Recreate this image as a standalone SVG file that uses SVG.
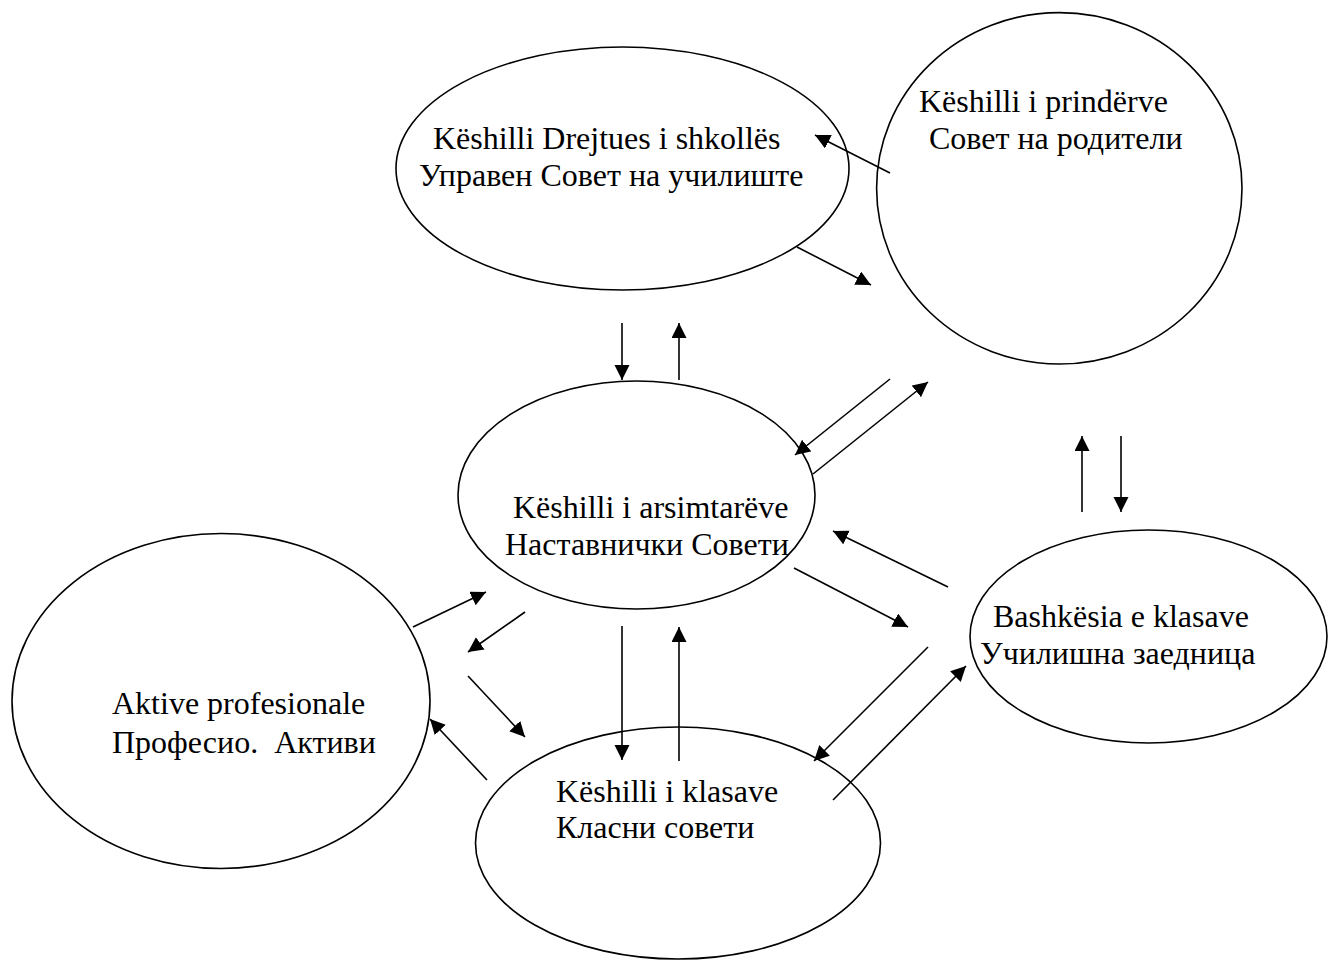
<svg xmlns="http://www.w3.org/2000/svg" width="1328" height="960" viewBox="0 0 1328 960">
<style>
.node ellipse{fill:#fff;stroke:#000;stroke-width:1.6}
.lbl{font-family:"Liberation Serif","Times New Roman",serif;font-size:32px;fill:#000;white-space:pre}
.conn line{stroke:#000;stroke-width:1.6;marker-end:url(#ah)}
</style>
<defs>
<marker id="ah" markerUnits="userSpaceOnUse" markerWidth="16" markerHeight="16" refX="15" refY="7.5" orient="auto">
<path d="M0,0 L15,7.5 L0,15 z" fill="#000"/>
</marker>
</defs>
<rect width="1328" height="960" fill="#fff"/>
<g id="n-drejtues" class="node">
<ellipse cx="622.5" cy="168.5" rx="226.5" ry="121.5"/>
<text class="lbl" x="433" y="149">Këshilli Drejtues i shkollës</text>
<text class="lbl" x="419" y="186">Управен Совет на училиште</text>
</g>
<g id="n-prinderve" class="node">
<ellipse cx="1059.3" cy="188.3" rx="182.7" ry="175.7"/>
<text class="lbl" x="919" y="112">Këshilli i prindërve</text>
<text class="lbl" x="929" y="149">Совет на родители</text>
</g>
<g id="n-arsimtareve" class="node">
<ellipse cx="636.5" cy="495" rx="178.5" ry="114"/>
<text class="lbl" x="513" y="518">Këshilli i arsimtarëve</text>
<text class="lbl" x="505" y="555">Наставнички Совети</text>
</g>
<g id="n-aktive" class="node">
<ellipse cx="221" cy="701" rx="209" ry="167.5"/>
<text class="lbl" x="112" y="714">Aktive profesionale</text>
<text class="lbl" x="112" y="753" xml:space="preserve">Професио.  Активи</text>
</g>
<g id="n-klasave" class="node">
<ellipse cx="678" cy="843" rx="202.5" ry="116"/>
<text class="lbl" x="556" y="802">Këshilli i klasave</text>
<text class="lbl" x="556" y="838">Класни совети</text>
</g>
<g id="n-bashkesia" class="node">
<ellipse cx="1148.5" cy="636.5" rx="178.5" ry="106.5"/>
<text class="lbl" x="993" y="627">Bashkësia e klasave</text>
<text class="lbl" x="980" y="664">Училишна заедница</text>
</g>
<g id="connectors" class="conn">
<line x1="890" y1="173" x2="815" y2="135"/>
<line x1="797" y1="247" x2="871" y2="285"/>
<line x1="622" y1="323" x2="622" y2="380"/>
<line x1="679" y1="380" x2="679" y2="323"/>
<line x1="890" y1="379" x2="795" y2="455"/>
<line x1="813" y1="474" x2="928" y2="382"/>
<line x1="948" y1="587" x2="833" y2="531"/>
<line x1="794" y1="568" x2="908" y2="627"/>
<line x1="413" y1="627" x2="486" y2="592"/>
<line x1="525" y1="612" x2="468" y2="652"/>
<line x1="468" y1="676" x2="525" y2="737"/>
<line x1="487" y1="780" x2="430" y2="719"/>
<line x1="622" y1="626" x2="622" y2="760"/>
<line x1="679" y1="761" x2="679" y2="627"/>
<line x1="928" y1="647" x2="814" y2="761"/>
<line x1="833" y1="800" x2="966" y2="666"/>
<line x1="1082" y1="512" x2="1082" y2="436"/>
<line x1="1121" y1="436" x2="1121" y2="512"/>
</g>
</svg>
